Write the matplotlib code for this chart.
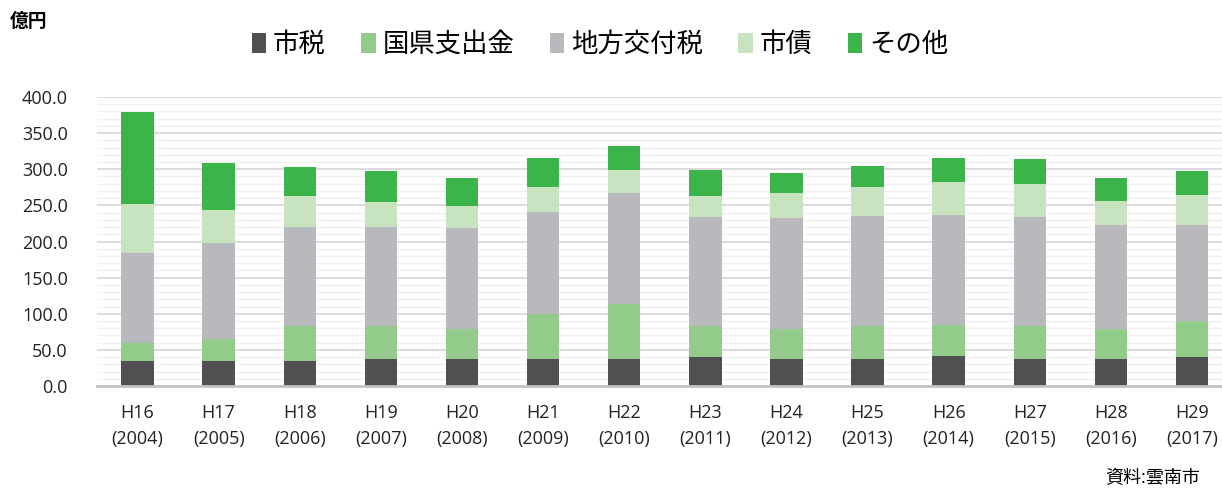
import numpy as np
import matplotlib.pyplot as plt
from matplotlib.ticker import MultipleLocator

plt.rcParams['font.family'] = ['Open Sans', 'Noto Sans CJK JP', 'DejaVu Sans']

# data (億円)
years = ['H16\n(2004)', 'H17\n(2005)', 'H18\n(2006)', 'H19\n(2007)', 'H20\n(2008)',
         'H21\n(2009)', 'H22\n(2010)', 'H23\n(2011)', 'H24\n(2012)', 'H25\n(2013)',
         'H26\n(2014)', 'H27\n(2015)', 'H28\n(2016)', 'H29\n(2017)']
shizei = [34, 34.5, 34.5, 37, 38, 37, 37, 39.5, 38, 38, 41, 37, 38, 40]
kokken = [25, 30, 48, 45.5, 41.5, 62, 76, 43, 41.5, 45.5, 43, 45.5, 41.5, 49.5]
koufuzei = [124.5, 133, 137, 137, 139.5, 142.5, 153.5, 152, 153.5, 152, 152, 151, 144, 134]
shisai = [69, 45.5, 43, 34.5, 30.5, 34.5, 32, 28, 34.5, 40, 47, 45.5, 33, 41.5]
sonota = [127, 65, 40, 43, 38, 40, 34, 36, 27.5, 29, 33, 34.5, 31, 32]

labels = ['市税', '国県支出金', '地方交付税', '市債', 'その他']
colors = ['#505052', '#92cb8a', '#b8b9bd', '#c8e3c0', '#3bb54a']
series = [shizei, kokken, koufuzei, shisai, sonota]

fig = plt.figure(figsize=(12.22, 4.9), dpi=100)
ax = fig.add_axes([97 / 1222, 104 / 490, 1125 / 1222, 289 / 490])

x = np.arange(len(years))
bottom = np.zeros(len(years))
handles = []
for vals, lab, col in zip(series, labels, colors):
    b = ax.bar(x, vals, width=0.4, bottom=bottom, color=col, label=lab, zorder=3)
    handles.append(b)
    bottom += np.array(vals)

ax.set_ylim(0, 400)
ax.set_xlim(-0.5, 13.37)
ax.yaxis.set_major_locator(MultipleLocator(50))
ax.yaxis.set_minor_locator(MultipleLocator(10))
ax.grid(axis='y', which='major', color='#d9d9d9', linewidth=1.3, zorder=0)
ax.grid(axis='y', which='minor', color='#f0f0f0', linewidth=1.0, zorder=0)
ax.set_yticks(np.arange(0, 401, 50))
ax.set_yticklabels([f'{v:.1f}' for v in np.arange(0, 401, 50)], fontsize=13, color='#222222')
ax.set_xticks(x)
ax.set_xticklabels(years, fontsize=13, color='#222222', linespacing=1.55)
ax.tick_params(axis='both', which='both', length=0)
ax.tick_params(axis='x', pad=13)
ax.tick_params(axis='y', pad=21)
for s in ['top', 'right', 'left']:
    ax.spines[s].set_visible(False)
ax.spines['bottom'].set_color('#c3c3c3')
ax.spines['bottom'].set_linewidth(2)
ax.spines['bottom'].set_zorder(4)

fig.legend(handles=handles, labels=labels, loc='center', bbox_to_anchor=(0.491, 0.907),
           ncol=5, frameon=False, fontsize=19, handlelength=0.55, handleheight=0.75,
           handletextpad=0.25, columnspacing=1.35)

fig.text(10 / 1222, 1 - 22 / 490, '億円', fontsize=13.5, fontweight='bold', va='center', ha='left')
fig.text(1200 / 1222, 1 - 478 / 490, '資料:雲南市', fontsize=13, va='center', ha='right')

fig.savefig('out.png', dpi=100)
